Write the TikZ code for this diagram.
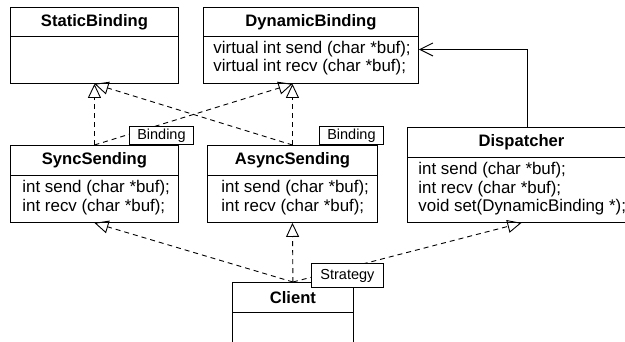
\documentclass[tikz,border=0pt]{standalone}
\usepackage{fontspec}
\setmainfont{Liberation Sans}
\usetikzlibrary{arrows.meta,calc}
\begin{document}
\begin{tikzpicture}[x=1pt,y=-1pt,
  line width=0.9pt,
  classbox/.style={draw, fill=white, rectangle, anchor=north west, inner sep=0pt},
  classtitle/.style={font=\fontsize{16.6}{18}\selectfont\bfseries, inner sep=0pt},
  members/.style={font=\fontsize{16.9}{18.6}\selectfont, align=left, anchor=north west, inner sep=0pt},
  tag/.style={draw, fill=white, font=\fontsize{14.5}{16}\selectfont, inner sep=0pt, minimum height=18pt, minimum width=64pt},
  realize/.style={dash pattern=on 5pt off 4pt, -{Triangle[open,length=14pt,width=13pt]}},
  assoc/.style={-{Straight Barb[length=13pt,width=13pt]}},
]
\useasboundingbox (0,0) rectangle (625,341);
\clip (0,0) rectangle (625,341);

% class frames
\node[classbox, minimum width=168pt, minimum height=76pt] (static) at (10,7) {};
\node[classbox, minimum width=215pt, minimum height=76pt] (dyn) at (203,7) {};
\node[classbox, minimum width=168pt, minimum height=77pt] (sync) at (10,145) {};
\node[classbox, minimum width=170pt, minimum height=77pt] (async) at (207,145) {};
\node[classbox, minimum width=228pt, minimum height=95pt] (disp) at (407,127) {};
\node[classbox, minimum width=121pt, minimum height=70pt] (client) at (232,282) {};

% compartment dividers
\draw ($(static.north west)+(0,29)$) -- ($(static.north east)+(0,29)$);
\draw ($(dyn.north west)+(0,29)$) -- ($(dyn.north east)+(0,29)$);
\draw ($(sync.north west)+(0,30)$) -- ($(sync.north east)+(0,30)$);
\draw ($(async.north west)+(0,30)$) -- ($(async.north east)+(0,30)$);
\draw ($(disp.north west)+(0,30)$) -- ($(disp.north east)+(0,30)$);
\draw ($(client.north west)+(0,30)$) -- ($(client.north east)+(0,30)$);

% class names
\node[classtitle] (static-t) at ($(static.north)+(0,15)$) {StaticBinding};
\node[classtitle] (dyn-t) at ($(dyn.north)+(0,15)$) {DynamicBinding};
\node[classtitle] (sync-t) at ($(sync.north)+(0,15.5)$) {SyncSending};
\node[classtitle] (async-t) at ($(async.north)+(0,15.5)$) {AsyncSending};
\node[classtitle] (disp-t) at ($(disp.north)+(0,15.5)$) {Dispatcher};
\node[classtitle] (client-t) at ($(client.north)+(0,15.5)$) {Client};

% operations
\node[members] (dyn-m) at ($(dyn.north west)+(10,33.5)$) {virtual int send (char *buf);\\virtual int recv (char *buf);};
\node[members] (sync-m) at ($(sync.north west)+(12,35)$) {int send (char *buf);\\int recv (char *buf);};
\node[members] (async-m) at ($(async.north west)+(14,35)$) {int send (char *buf);\\int recv (char *buf);};
\node[members] (disp-m) at ($(disp.north west)+(11,35)$) {int send (char *buf);\\int recv (char *buf);\\void set(DynamicBinding *);};

% relations
\draw[realize] (sync.north) -- (static.south);
\draw[realize] (async.north) -- (static.south);
\draw[realize] (sync.north) -- (dyn.south -| async.north);
\draw[realize] (async.north) -- (dyn.south -| async.north);
\draw[realize] (client.north) -- (sync.south);
\draw[realize] (client.north) -- (async.south);
\draw[realize] (client.north) -- (disp.south);
\draw[assoc] ($(disp.north)+(6,0)$) |- ($(dyn.east)+(0,4)$);

% stereotype tags
\node[tag, anchor=south east] (bind1) at ($(sync.north east)+(15,0)$) {Binding};
\node[tag, anchor=south east] (bind2) at ($(async.north east)+(6,0)$) {Binding};
\node[tag, anchor=south east, minimum height=24pt, minimum width=72pt] (strat) at ($(client.north east)+(30,6)$) {Strategy};
\end{tikzpicture}
\end{document}
